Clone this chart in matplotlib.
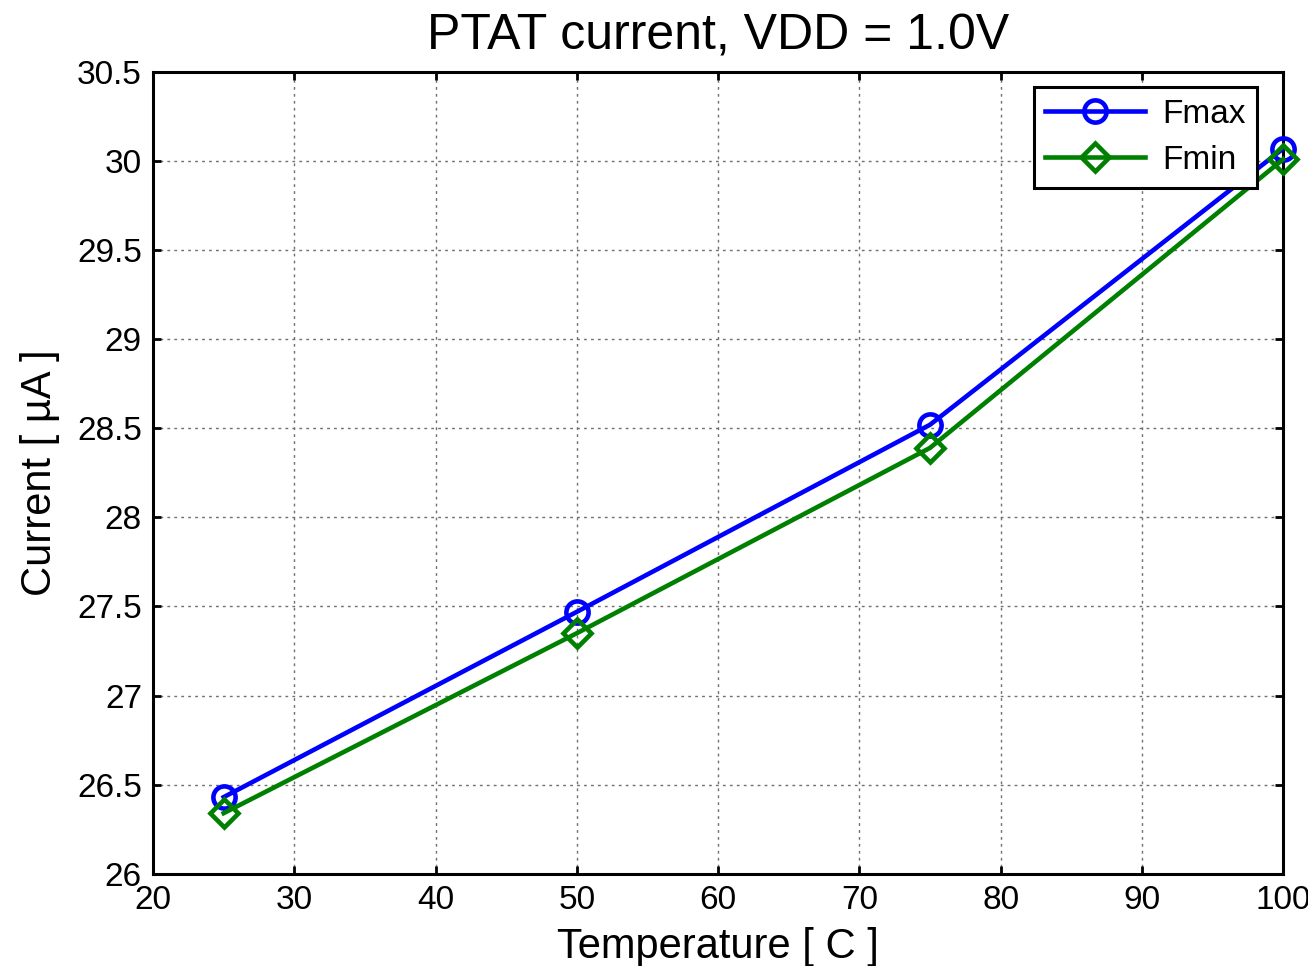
import matplotlib
matplotlib.use('Agg')
import matplotlib.pyplot as plt

plt.rcParams['font.family'] = ['Liberation Sans', 'DejaVu Sans']

# Temperature points and measured PTAT currents
temperature = [25, 50, 75, 100]
fmax_current = [26.43, 27.47, 28.52, 30.07]
fmin_current = [26.34, 27.35, 28.39, 30.01]

x_ticks = [20, 30, 40, 50, 60, 70, 80, 90, 100]
y_ticks = [26, 26.5, 27, 27.5, 28, 28.5, 29, 29.5, 30, 30.5]
y_tick_labels = ['26', '26.5', '27', '27.5', '28', '28.5', '29', '29.5', '30', '30.5']

fig = plt.figure(figsize=(13.08, 9.66), dpi=100)
ax = fig.add_axes([0.117, 0.0955, 0.864, 0.83])

ax.plot(temperature, fmax_current, color='#0000ff', lw=3.3, marker='o', ms=16,
        mfc='none', mew=3.3, label='Fmax', clip_on=False, zorder=3)
ax.plot(temperature, fmin_current, color='#008000', lw=3.3, marker='D', ms=14,
        mfc='none', mew=3.3, label='Fmin', clip_on=False, zorder=3)

ax.set_xlim(20, 100)
ax.set_ylim(26, 30.5)
ax.set_xticks(x_ticks)
ax.set_yticks(y_ticks)
ax.set_yticklabels(y_tick_labels)
ax.tick_params(direction='in', top=True, right=True, labelsize=24, length=6, width=2, pad=8)
for s in ax.spines.values():
    s.set_linewidth(2.2)
ax.grid(True, color='#707070', ls=(0, (2, 3)), lw=1)

ax.set_title('PTAT current, VDD = 1.0V', fontsize=36, pad=16)
ax.set_xlabel('Temperature [ C ]', fontsize=30, labelpad=8)
ax.set_ylabel('Current [ µA ]', fontsize=30, labelpad=12)

leg = ax.legend(loc='upper right', bbox_to_anchor=(0.977, 0.981), borderaxespad=0,
                fontsize=24, fancybox=False, framealpha=1, edgecolor='black',
                handlelength=3.0, borderpad=0.35, labelspacing=0.45, handletextpad=0.5)
leg.get_frame().set_linewidth(2.2)

fig.savefig('out.png', dpi=100)
